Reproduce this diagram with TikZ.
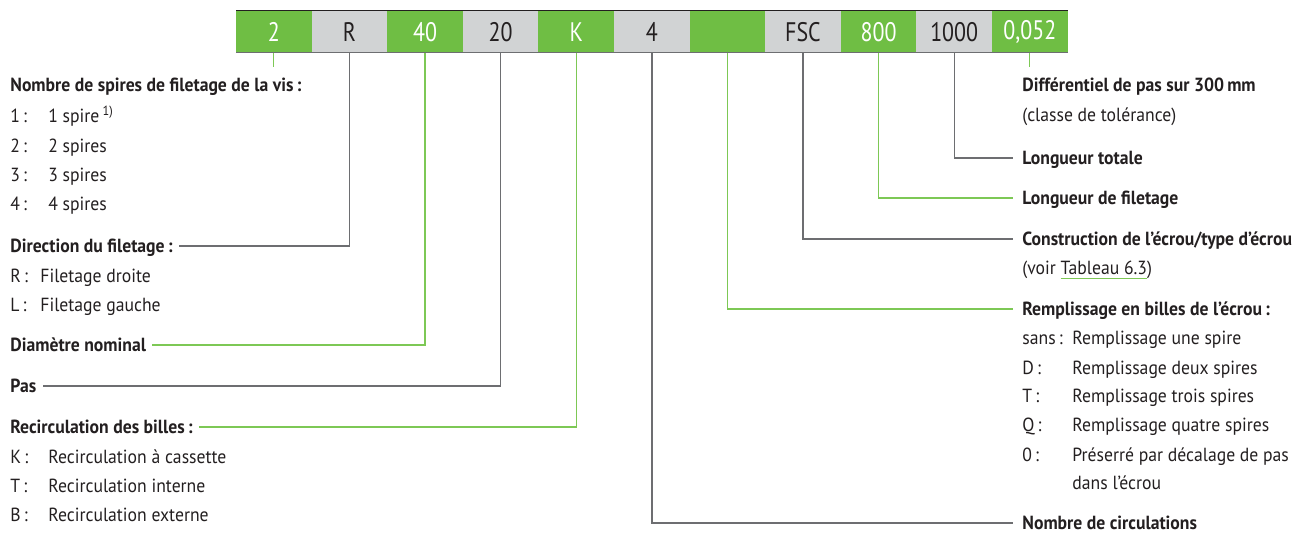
\documentclass[tikz,border=0pt]{standalone}
\usepackage{fontspec}
\setmainfont{PT Sans}[FakeStretch=0.93]
\newfontfamily\cellfont{PT Sans}[FakeStretch=0.82]
\usepackage{tikz}
\usetikzlibrary{positioning, calc}
\definecolor{codegreen}{HTML}{6FBE44}
\definecolor{codegrey}{HTML}{D1D3D4}
\definecolor{linegreen}{HTML}{7DC855}
\definecolor{linegrey}{HTML}{6D6E71}
\definecolor{textdark}{HTML}{231F20}
\newcommand{\keyl}[2]{\makebox[#1][l]{#2}}
\tikzset{
    cellbase/.style={rectangle, minimum width=37.8pt, minimum height=21pt, inner sep=0pt, outer sep=0pt, font=\cellfont\fontsize{13.4}{14}\selectfont, anchor=center},
    greencell/.style={cellbase, fill=codegreen, text=white},
    greycell/.style={cellbase, fill=codegrey, text=textdark},
    head/.style={anchor=base west, inner xsep=3pt, inner ysep=0pt, text height=7pt, text depth=0pt, font=\fontsize{9.5}{11}\selectfont\bfseries, text=textdark},
    rhead/.style={head, inner xsep=4.5pt},
    row/.style={anchor=base west, inner sep=0pt, font=\fontsize{9.5}{11}\selectfont, text=textdark},
    gline/.style={draw=linegreen, line width=0.6pt},
    kline/.style={draw=linegrey, line width=0.7pt},
}

\begin{document}
\begin{tikzpicture}[x=0.5pt, y=-0.5pt]
        \useasboundingbox (0,0) rectangle (1296,533);

        % Code bar
        \node[greencell] (c2) at (273.8,32) {2};
        \node[greycell, right=0pt of c2] (cR) {R};
        \node[greencell, right=0pt of cR] (c40) {40};
        \node[greycell, right=0pt of c40] (c20) {20};
        \node[greencell, right=0pt of c20] (cK) {K};
        \node[greycell, right=0pt of cK] (c4) {4};
        \node[greencell, right=0pt of c4] (cE) {};
        \node[greycell, right=0pt of cE] (cFSC) {FSC};
        \node[greencell, right=0pt of cFSC] (c800) {800};
        \node[greycell, right=0pt of c800] (c1000) {1000};
        \node[greencell, right=0pt of c1000] (c052) {0,052};
        \draw[draw=textdark, line width=0.5pt] (c2.north west) -- (c052.north east);
        \draw[draw=linegrey, line width=0.5pt] (c2.south west) -- (c052.south east);

        % Left labels
        \node[head] (spires) at (4,92) {Nombre de spires de filetage de la vis\,:};
        \node[row] (sp1) at (10,123) {\keyl{19pt}{1\,:}1 spire\,\textsuperscript{1)}};
        \node[row] (sp2) at (10,153) {\keyl{19pt}{2\,:}2 spires};
        \node[row] (sp3) at (10,182) {\keyl{19pt}{3\,:}3 spires};
        \node[row] (sp4) at (10,211) {\keyl{19pt}{4\,:}4 spires};

        \node[head] (dir) at (4,253) {Direction du filetage\,:};
        \node[row] (dirR) at (10,283) {\keyl{15pt}{R\,:}Filetage droite};
        \node[row] (dirL) at (10,312) {\keyl{15pt}{L\,:}Filetage gauche};

        \node[head] (diam) at (4,352) {Diamètre nominal};
        \node[head] (pas) at (4,393) {Pas};

        \node[head] (recirc) at (4,434) {Recirculation des billes\,:};
        \node[row] (recK) at (10,464) {\keyl{19pt}{K\,:}Recirculation à cassette};
        \node[row] (recT) at (10,493) {\keyl{19pt}{T\,:}Recirculation interne};
        \node[row] (recB) at (10,522) {\keyl{19pt}{B\,:}Recirculation externe};

        % Right labels
        \node[rhead] (diff) at (1013,92) {Différentiel de pas sur 300\,mm};
        \node[row] (diffcl) at (1022,122) {(classe de tolérance)};
        \node[rhead] (total) at (1013,165) {Longueur totale};
        \node[rhead] (filet) at (1013,205) {Longueur de filetage};
        \node[rhead] (constr) at (1013,246) {Construction de l’écrou/type d’écrou};
        \node[row] (voir) at (1022,275) {(voir {\color{linegreen}\underline{\color{textdark}Tableau 6.3}})};
        \node[rhead] (rempl) at (1013,316) {Remplissage en billes de l’écrou\,:};
        \node[row] (remS) at (1022,345) {\keyl{25pt}{sans\,:}Remplissage une spire};
        \node[row] (remD) at (1022,375) {\keyl{25pt}{D\,:}Remplissage deux spires};
        \node[row] (remT) at (1022,403) {\keyl{25pt}{T\,:}Remplissage trois spires};
        \node[row] (remQ) at (1022,432) {\keyl{25pt}{Q\,:}Remplissage quatre spires};
        \node[row] (remO) at (1022,462) {\keyl{25pt}{0\,:}Préserré par décalage de pas};
        \node[row] (remO2) at (1022,490) {\keyl{25pt}{}dans l’écrou};
        \node[rhead] (circ) at (1013,530) {Nombre de circulations};

        % Ticks
        \coordinate[below=7pt of c2] (t2);
        \coordinate[below=7pt of c052] (t052);

        % Connections
        \draw[gline] (c2.south) -- (t2);
        \draw[kline] (cR.south) |- (dir.east);
        \draw[gline] (c40.south) |- (diam.east);
        \draw[kline] (c20.south) |- (pas.east);
        \draw[gline] (cK.south) |- (recirc.east);
        \draw[kline] (c4.south) |- (circ.west);
        \draw[gline] (cE.south) |- (rempl.west);
        \draw[kline] (cFSC.south) |- (constr.west);
        \draw[gline] (c800.south) |- (filet.west);
        \draw[kline] (c1000.south) |- (total.west);
        \draw[gline] (c052.south) -- (t052);
    \end{tikzpicture}
\end{document}
